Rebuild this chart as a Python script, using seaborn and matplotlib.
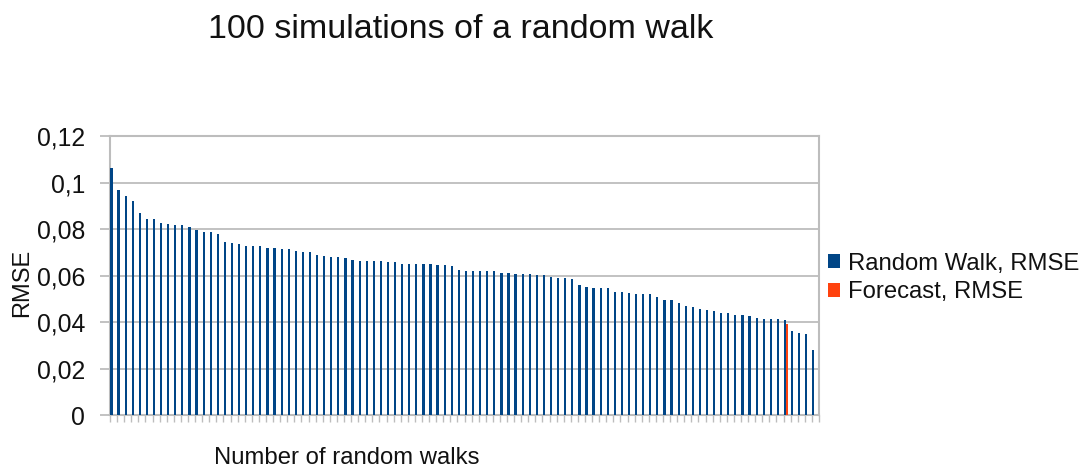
import numpy as np
import pandas as pd
import matplotlib
matplotlib.use("Agg")
import matplotlib.pyplot as plt
from matplotlib.patches import Patch
import seaborn as sns

# ---- data ----
walk_rmse = [
    0.1061, 0.0966, 0.0943, 0.0922, 0.0867, 0.0844, 0.0844, 0.0827, 0.0821, 0.0816,
    0.0816, 0.0810, 0.0796, 0.0788, 0.0788, 0.0777, 0.0744, 0.0738, 0.0734, 0.0728,
    0.0728, 0.0728, 0.0718, 0.0718, 0.0714, 0.0712, 0.0707, 0.0701, 0.0701, 0.0689,
    0.0684, 0.0679, 0.0679, 0.0674, 0.0668, 0.0662, 0.0662, 0.0662, 0.0662, 0.0656,
    0.0656, 0.0651, 0.0651, 0.0651, 0.0651, 0.0651, 0.0645, 0.0645, 0.0639, 0.0622,
    0.0618, 0.0618, 0.0618, 0.0618, 0.0618, 0.0612, 0.0611, 0.0606, 0.0606, 0.0606,
    0.0601, 0.0601, 0.0595, 0.0589, 0.0589, 0.0583, 0.0558, 0.0552, 0.0546, 0.0546,
    0.0546, 0.0529, 0.0529, 0.0523, 0.0519, 0.0519, 0.0519, 0.0507, 0.0496, 0.0496,
    0.0480, 0.0469, 0.0463, 0.0457, 0.0452, 0.0446, 0.0440, 0.0440, 0.0430, 0.0430,
    0.0424, 0.0418, 0.0413, 0.0413, 0.0413, 0.0407, 0.0362, 0.0353, 0.0347, 0.0280,
]
forecast_walk = 96          # category (1-based) holding the forecast bar
forecast_rmse = 0.0391
series_names = ["Random Walk, RMSE", "Forecast, RMSE"]
series_colors = ["#004586", "#ff420e"]
y_ticks = [0, 0.02, 0.04, 0.06, 0.08, 0.10, 0.12]
title = "100 simulations of a random walk"
x_label = "Number of random walks"
y_label = "RMSE"

categories = [str(i) for i in range(1, len(walk_rmse) + 1)]
df = pd.DataFrame({
    "walk": categories + [str(forecast_walk)],
    "series": [series_names[0]] * len(walk_rmse) + [series_names[1]],
    "rmse": walk_rmse + [forecast_rmse],
})

sns.set_theme(style="white")
plt.rcParams["font.family"] = ["Liberation Sans", "DejaVu Sans"]

fig = plt.figure(figsize=(10.9, 4.7), dpi=100)
ax = fig.add_axes([0.1009, 0.117, 0.6505, 0.5936])

sns.barplot(data=df, x="walk", y="rmse", hue="series", order=categories,
            hue_order=series_names, palette=series_colors, saturation=1,
            width=0.62, dodge=True, errorbar=None, linewidth=0, legend=False,
            ax=ax, zorder=3)

grey = "#bdbdbd"
n = len(categories)
shift = 0.36
ax.set_xlim(-shift, n - shift)
ax.set_ylim(0, 0.12)
ax.set_yticks(y_ticks)
ax.set_yticklabels([f"{v:g}".replace(".", ",") for v in y_ticks])
ax.set_xticks(np.arange(n + 1) - shift)
ax.set_xticklabels([])
ax.grid(axis="y", color=grey, linewidth=1.3, zorder=0)
ax.set_axisbelow(True)
for s in ax.spines.values():
    s.set_color(grey)
    s.set_linewidth(1.5)
ax.tick_params(axis="y", length=7, width=1.3, color=grey, pad=11,
               labelsize=17.8, labelcolor="#111111", left=True)
ax.tick_params(axis="x", length=5, width=1, color=grey, bottom=True, direction="out")

ax.set_xlabel(x_label, fontsize=17.2, color="#111111")
ax.xaxis.set_label_coords(0.334, -0.115)
ax.set_ylabel(y_label, fontsize=17, color="#111111")
ax.yaxis.set_label_coords(-0.109, 0.475)

fig.text(0.423, 0.937, title, ha="center", va="center", fontsize=24.5, color="#111111")

handles = [Patch(facecolor=c, edgecolor="none") for c in series_colors]
fig.legend(handles, series_names, loc="center left", bbox_to_anchor=(0.7486, 0.4085),
           frameon=False, borderpad=0, fontsize=17.2, handlelength=0.5, handleheight=0.5,
           handletextpad=0.35, labelspacing=0.27, labelcolor="#111111")

fig.savefig("out.png", dpi=100)
